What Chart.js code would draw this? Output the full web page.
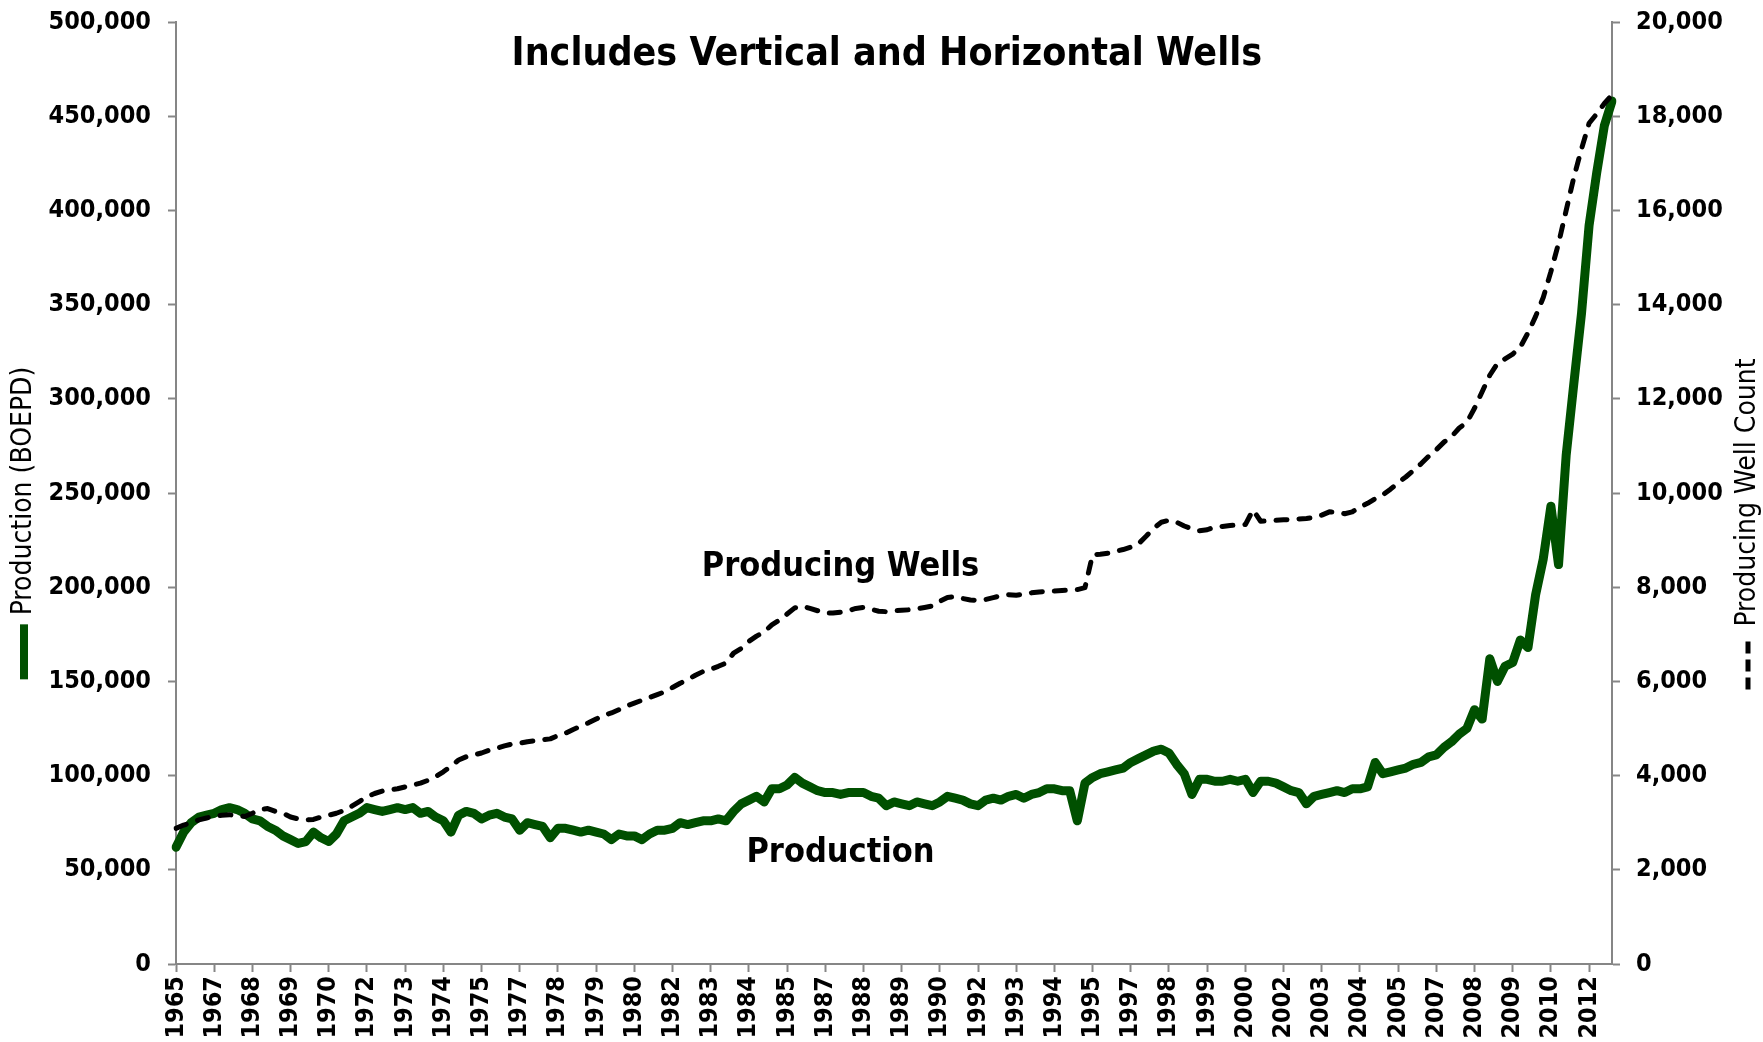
<!DOCTYPE html>
<html>
<head>
<meta charset="utf-8">
<title>Producing Wells and Production</title>
<script src="https://cdn.jsdelivr.net/npm/chart.js@4.4.1/dist/chart.umd.min.js"></script>
<style>
  html, body { margin: 0; padding: 0; background: #fff; }
</style>
</head>
<body>
<canvas id="wellsChart" width="1763" height="1042"></canvas>
<script>
// quarterly readings, first point = Q4 1965, last = Q4 2012
const tickYears = [
  "1965", "1967", "1968", "1969", "1970", "1972", "1973", "1974", "1975", "1977",
  "1978", "1979", "1980", "1982", "1983", "1984", "1985", "1987", "1988", "1989",
  "1990", "1992", "1993", "1994", "1995", "1997", "1998", "1999", "2000", "2002",
  "2003", "2004", "2005", "2007", "2008", "2009", "2010", "2012"
];

// Production (BOEPD)
const production = [
  62000,
  70000, 75000, 78000, 79000,     // 1966
  80000, 82000, 83000, 82000,     // 1967
  80000, 77000, 76000, 73000,     // 1968
  71000, 68000, 66000, 64000,     // 1969
  65000, 70000, 67000, 65000,     // 1970
  69000, 76000, 78000, 80000,     // 1971
  83000, 82000, 81000, 82000,     // 1972
  83000, 82000, 83000, 80000,     // 1973
  81000, 78000, 76000, 70000,     // 1974
  79000, 81000, 80000, 77000,     // 1975
  79000, 80000, 78000, 77000,     // 1976
  71000, 75000, 74000, 73000,     // 1977
  67000, 72000, 72000, 71000,     // 1978
  70000, 71000, 70000, 69000,     // 1979
  66000, 69000, 68000, 68000,     // 1980
  66000, 69000, 71000, 71000,     // 1981
  72000, 75000, 74000, 75000,     // 1982
  76000, 76000, 77000, 76000,     // 1983
  81000, 85000, 87000, 89000,     // 1984
  86000, 93000, 93000, 95000,     // 1985
  99000, 96000, 94000, 92000,     // 1986
  91000, 91000, 90000, 91000,     // 1987
  91000, 91000, 89000, 88000,     // 1988
  84000, 86000, 85000, 84000,     // 1989
  86000, 85000, 84000, 86000,     // 1990
  89000, 88000, 87000, 85000,     // 1991
  84000, 87000, 88000, 87000,     // 1992
  89000, 90000, 88000, 90000,     // 1993
  91000, 93000, 93000, 92000,     // 1994
  92000, 76000, 96000, 99000,     // 1995
  101000, 102000, 103000, 104000, // 1996
  107000, 109000, 111000, 113000, // 1997
  114000, 112000, 106000, 101000, // 1998
  90000, 98000, 98000, 97000,     // 1999
  97000, 98000, 97000, 98000,     // 2000
  91000, 97000, 97000, 96000,     // 2001
  94000, 92000, 91000, 85000,     // 2002
  89000, 90000, 91000, 92000,     // 2003
  91000, 93000, 93000, 94000,     // 2004
  107000, 101000, 102000, 103000, // 2005
  104000, 106000, 107000, 110000, // 2006
  111000, 115000, 118000, 122000, // 2007
  125000, 135000, 130000, 162000, // 2008
  150000, 158000, 160000, 172000, // 2009
  168000, 196000, 215000, 243000, // 2010
  212000, 270000, 308000, 345000, // 2011
  392000, 420000, 445000, 458000  // 2012
];

// Producing well count
const wellCount = [
  2880,
  2950, 3000, 3060, 3100,
  3140, 3160, 3170, 3150,
  3130, 3200, 3280, 3300,
  3240, 3200, 3120, 3080,
  3060, 3070, 3120, 3160,
  3200, 3260, 3350, 3450,
  3550, 3620, 3670, 3700,
  3720, 3760, 3800, 3840,
  3900, 3980, 4080, 4200,
  4330, 4400, 4440, 4480,
  4540, 4580, 4630, 4670,
  4690, 4720, 4740, 4760,
  4780, 4850, 4900, 4980,
  5050, 5120, 5200, 5280,
  5330, 5400, 5480, 5540,
  5600, 5660, 5720, 5780,
  5870, 5960, 6040, 6130,
  6210, 6260, 6320, 6390,
  6600, 6700, 6850, 6960,
  7050, 7200, 7300, 7430,
  7560, 7600, 7550, 7500,
  7450, 7450, 7470, 7500,
  7550, 7570, 7530, 7490,
  7480, 7500, 7510, 7520,
  7540, 7570, 7600, 7700,
  7780, 7800, 7760, 7730,
  7720, 7740, 7780, 7820,
  7840, 7830, 7850, 7880,
  7900, 7910, 7920, 7930,
  7940, 7950, 7990, 8690,
  8700, 8720, 8760, 8800,
  8850, 8920, 9080, 9250,
  9380, 9420, 9380, 9300,
  9240, 9200, 9220, 9280,
  9290, 9310, 9320, 9330,
  9640, 9400, 9410, 9420,
  9430, 9440, 9450, 9460,
  9480, 9530, 9600, 9590,
  9560, 9600, 9700, 9780,
  9880, 9960, 10080, 10220,
  10340, 10480, 10620, 10780,
  10920, 11080, 11200, 11380,
  11500, 11800, 12150, 12500,
  12750, 12850, 12950, 13100,
  13400, 13750, 14150, 14700,
  15300, 16000, 16700, 17300,
  17850, 18050, 18270, 18450
];

// one label every 5 quarters
const TICK_EVERY = 5;

const quarters = [];
for (let i = 0; i < production.length; i++) {
  const m = 9 + i * 3;
  quarters.push(`${1965 + Math.floor(m / 12)} Q${(m % 12) / 3 + 1}`);
}

const FONT = "'DejaVu Sans Condensed', 'DejaVu Sans', sans-serif";
const AXIS = "#868686";
const GREEN = "#005000";

function axisTitle(ctx, cx, cy, text, drawKey, keyLen) {
  ctx.save();
  ctx.translate(cx, cy);
  ctx.rotate(-Math.PI / 2);
  ctx.font = `28px ${FONT}`;
  const gap = 9;
  const w = ctx.measureText(text).width;
  const start = -(keyLen + gap + w) / 2;
  drawKey(start, keyLen);
  ctx.fillStyle = "#000";
  ctx.textAlign = "left";
  ctx.textBaseline = "middle";
  ctx.fillText(text, start + keyLen + gap, 0);
  ctx.restore();
}

const annotations = {
  id: "annotations",
  afterDraw(chart) {
    const { ctx, chartArea, scales } = chart;
    ctx.save();
    ctx.fillStyle = "#000";
    ctx.textAlign = "center";
    ctx.textBaseline = "middle";
    ctx.font = `bold 39px ${FONT}`;
    ctx.fillText("Includes Vertical and Horizontal Wells",
      chartArea.left + chartArea.width * 0.495, 55);
    ctx.font = `bold 34px ${FONT}`;
    ctx.fillText("Producing Wells", scales.x.getPixelForValue(87), scales.y1.getPixelForValue(8420));
    ctx.fillText("Production", scales.x.getPixelForValue(87), scales.y.getPixelForValue(59000));
    ctx.restore();

    axisTitle(ctx, 24, 523, "Production (BOEPD)", (s, len) => {
      ctx.fillStyle = GREEN;
      ctx.fillRect(s, -4, len, 8);
    }, 55);
    axisTitle(ctx, 1748, 524, "Producing Well Count", (s, len) => {
      ctx.strokeStyle = "#000";
      ctx.lineWidth = 5;
      ctx.setLineDash([12, 6]);
      ctx.beginPath();
      ctx.moveTo(s, 0);
      ctx.lineTo(s + len, 0);
      ctx.stroke();
      ctx.setLineDash([]);
    }, 54);
  }
};

const tickFont = { family: FONT, size: 25, weight: "bold" };

// fixed axis sizes, no extra label padding above / below the plot
const fitY = width => s => {
  s.width = width;
  s.paddingTop = 0;
  s.paddingBottom = 0;
};

new Chart(document.getElementById("wellsChart"), {
  type: "line",
  data: {
    labels: quarters,
    datasets: [
      {
        label: "Production",
        data: production,
        yAxisID: "y",
        borderColor: GREEN,
        borderWidth: 9,
        borderCapStyle: "round",
        borderJoinStyle: "round",
        pointRadius: 0,
        tension: 0,
        order: 2
      },
      {
        label: "Producing Wells",
        data: wellCount,
        yAxisID: "y1",
        borderColor: "#000",
        borderWidth: 5,
        borderDash: [11, 12],
        borderCapStyle: "round",
        borderJoinStyle: "round",
        pointRadius: 0,
        tension: 0,
        order: 1
      }
    ]
  },
  options: {
    responsive: false,
    animation: false,
    events: [],
    layout: { padding: { top: 22, left: 0, right: 0, bottom: 0 } },
    plugins: {
      legend: { display: false },
      tooltip: { enabled: false }
    },
    scales: {
      x: {
        type: "category",
        offset: false,
        grid: {
          drawOnChartArea: false,
          tickLength: 8,
          tickWidth: 2,
          offset: false,
          tickColor: c => (c.index % TICK_EVERY === 0 ? AXIS : "rgba(0,0,0,0)")
        },
        border: { color: AXIS, width: 2 },
        ticks: {
          autoSkip: false,
          minRotation: 90,
          maxRotation: 90,
          padding: 4,
          color: "#000",
          font: tickFont,
          callback: (v, i) => (i % TICK_EVERY === 0 ? tickYears[i / TICK_EVERY] : "")
        },
        afterFit: s => { s.height = 78; }
      },
      y: {
        position: "left",
        min: 0,
        max: 500000,
        grid: { drawOnChartArea: false, tickLength: 8, tickWidth: 2, tickColor: AXIS },
        border: { color: AXIS, width: 2 },
        ticks: {
          stepSize: 50000,
          padding: 17,
          color: "#000",
          font: tickFont,
          callback: v => v.toLocaleString("en-US")
        },
        afterFit: fitY(176)
      },
      y1: {
        position: "right",
        min: 0,
        max: 20000,
        grid: { drawOnChartArea: false, tickLength: 8, tickWidth: 2, tickColor: AXIS },
        border: { color: AXIS, width: 2 },
        ticks: {
          stepSize: 2000,
          padding: 16,
          color: "#000",
          font: tickFont,
          callback: v => v.toLocaleString("en-US")
        },
        afterFit: fitY(151)
      }
    }
  },
  plugins: [annotations]
});
</script>
</body>
</html>
